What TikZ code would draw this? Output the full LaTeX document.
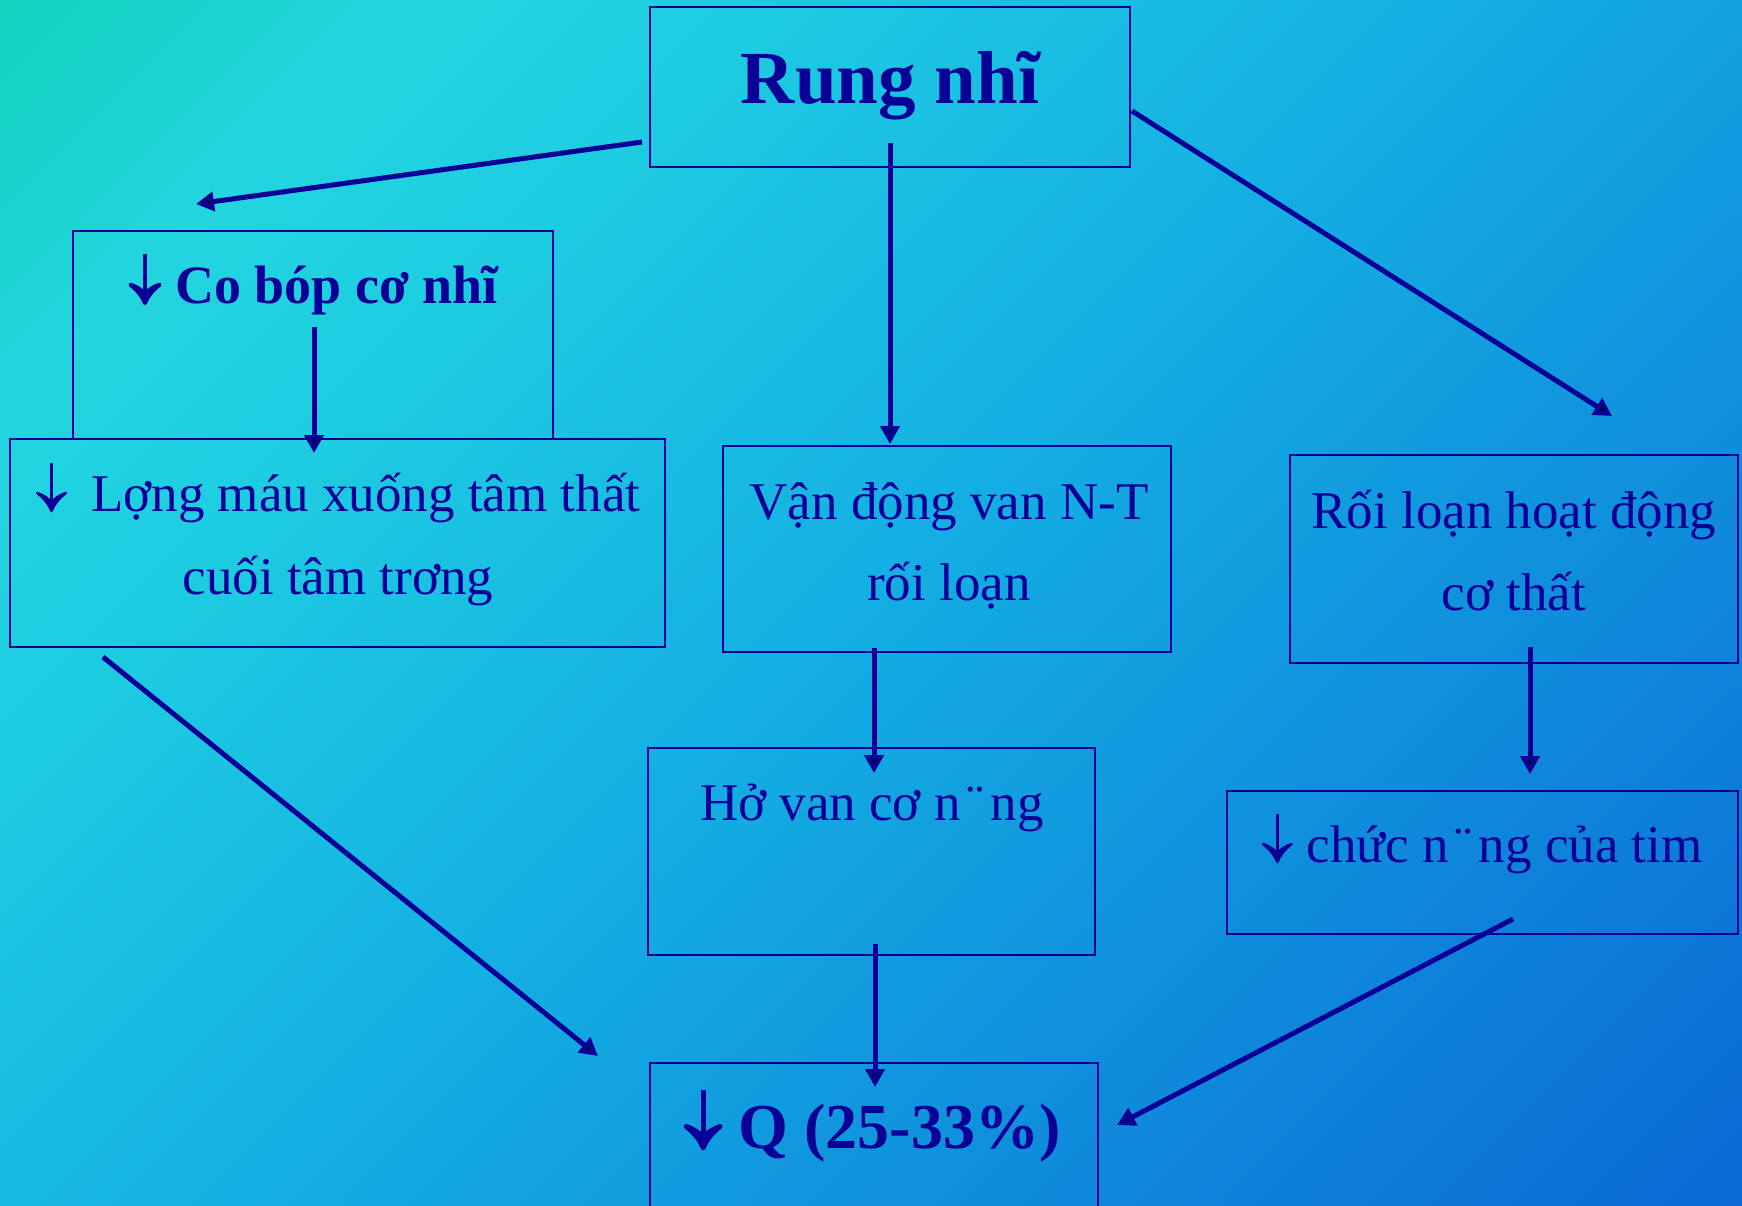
\documentclass[tikz,border=0pt]{standalone}
\usepackage{fontspec}
\setmainfont{Liberation Serif}
\usetikzlibrary{arrows.meta}

\definecolor{ink}{RGB}{8,0,150}
\definecolor{bgA}{RGB}{18,210,190}
\definecolor{bgB}{RGB}{34,213,223}
\definecolor{bgC}{RGB}{30,205,225}
\definecolor{bgD}{RGB}{20,174,227}
\definecolor{bgE}{RGB}{10,105,212}
% diagonal slide background: stops placed for a 45 degree rotated shading
\pgfdeclarehorizontalshading{slidebg}{100bp}{color(0bp)=(bgA); color(14.6bp)=(bgA); color(24.5bp)=(bgB); color(32.3bp)=(bgC); color(50bp)=(bgD); color(85.4bp)=(bgE); color(100bp)=(bgE)}

% tall downward arrow used in front of the labels
\newcommand\dnarr[1]{\tikz[baseline=0pt,x=1em,y=1em,line width=#1em,line cap=butt,line join=round]{%
  \path (0,0) (0.6,0.9);
  \draw[ink] (0.3,0.91) -- (0.3,0.1);
  \filldraw[ink] (0.03,0.34) .. controls (0.18,0.22) and (0.25,0.12) .. (0.3,0.0)
             .. controls (0.35,0.12) and (0.42,0.22) .. (0.57,0.34)
             .. controls (0.45,0.3) and (0.36,0.24) .. (0.3,0.16)
             .. controls (0.24,0.24) and (0.15,0.3) .. cycle;}}

\tikzset{
  box/.style={draw=ink, line width=2pt, rectangle, inner sep=0pt},
  txt/.style={text=ink, anchor=base, inner sep=0pt, font=\fontsize{53}{82}\selectfont},
  btxt/.style={text=ink, anchor=base, inner sep=0pt, font=\fontsize{54}{82}\selectfont\bfseries},
  flow/.style={draw=ink, line width=5pt, -{Triangle[length=18pt,width=19pt]}},
}

\begin{document}
\begin{tikzpicture}[x=1pt,y=-1pt]
  % slide background
  \shade[shading=slidebg, shading angle=-45] (0,0) rectangle (1742,1205);
  \useasboundingbox (0,0) rectangle (1742,1205);
  \clip (0,0) rectangle (1742,1205);

  % boxes
  \node[box, minimum width=480, minimum height=160] (top)      at (890,87)      {};
  \node[box, minimum width=480, minimum height=208] (cobop)    at (313,335)     {};
  \node[box, minimum width=655, minimum height=208] (luong)    at (337.5,543)   {};
  \node[box, minimum width=448, minimum height=206] (vandong)  at (947,549)     {};
  \node[box, minimum width=448, minimum height=208] (roiloan)  at (1514,559)    {};
  \node[box, minimum width=447, minimum height=207] (hovan)    at (871.5,851.5) {};
  \node[box, minimum width=511, minimum height=143] (chucnang) at (1482.5,862.5){};
  \node[box, minimum width=448, minimum height=207] (qbox)     at (874,1166.5)  {};

  % labels
  \node[btxt, font=\fontsize{75}{90}\selectfont\bfseries] (tRung) at (890,103) {Rung nhĩ};
  \node[btxt] (tCobop) at (313,303) {\dnarr{0.075} Co bóp cơ nhĩ};
  \node[txt] (tLuongA) at (338,511) {\dnarr{0.045}\hspace{0.2em} Lợng máu xuống tâm thất};
  \node[txt] (tLuongB) at (338,594) {cuối tâm trơng};
  \node[txt] (tVanA) at (949,519) {Vận động van N-T};
  \node[txt] (tVanB) at (949,600) {rối loạn};
  \node[txt] (tRoiA) at (1514,528) {Rối loạn hoạt động};
  \node[txt] (tRoiB) at (1514,610) {cơ thất};
  \node[txt] (tHo) at (872,820) {Hở van cơ n\kern0.12em¨\kern0.12em ng};
  \node[txt] (tChuc) at (1482,862) {\dnarr{0.045} chức n\kern0.12em¨\kern0.12em ng của tim};
  \node[btxt, font=\fontsize{64}{80}\selectfont\bfseries] (tQ) at (872,1148) {\dnarr{0.075} Q (25-33\%)};

  % connector end points
  \coordinate (s1) at (642,142);  \coordinate (e1) at (196,204);
  \coordinate (s2) at (890,143);  \coordinate (e2) at (890,444);
  \coordinate (s3) at (1132,111); \coordinate (e3) at (1612,416);
  \coordinate (s4) at (314,327);  \coordinate (e4) at (314,453);
  \coordinate (s5) at (103,657);  \coordinate (e5) at (598,1056);
  \coordinate (s6) at (874,648);  \coordinate (e6) at (874,773);
  \coordinate (s7) at (1530,647); \coordinate (e7) at (1530,774);
  \coordinate (s8) at (875,944);  \coordinate (e8) at (875,1087);
  \coordinate (s9) at (1513,919); \coordinate (e9) at (1117,1125);

  % connectors
  \draw[flow] (s1) -- (e1);
  \draw[flow] (s2) -- (e2);
  \draw[flow] (s3) -- (e3);
  \draw[flow] (s4) -- (e4);
  \draw[flow] (s5) -- (e5);
  \draw[flow] (s6) -- (e6);
  \draw[flow] (s7) -- (e7);
  \draw[flow] (s8) -- (e8);
  \draw[flow] (s9) -- (e9);
\end{tikzpicture}
\end{document}
